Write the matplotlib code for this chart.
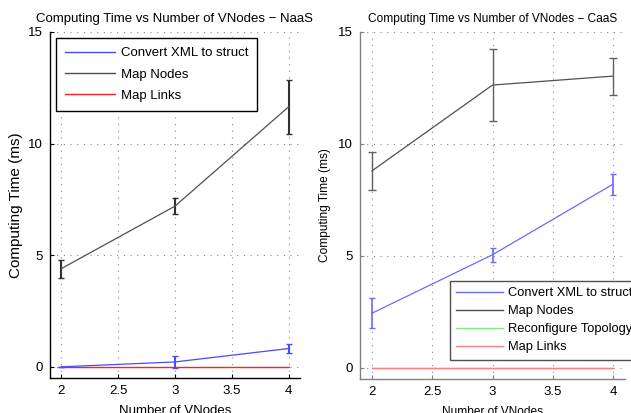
import matplotlib
matplotlib.use("Agg")
import matplotlib.pyplot as plt

plt.rcParams["font.family"] = ["Liberation Sans", "DejaVu Sans"]
plt.rcParams["font.size"] = 9

# ── data ──────────────────────────────────────────────────────────────────────
vnodes = [2, 3, 4]

# NaaS
naas_labels = ["Convert XML to struct", "Map Nodes", "Map Links"]
naas_xml = [0.0, 0.22, 0.82]
naas_xml_err = [0.0, 0.25, 0.2]
naas_nodes = [4.4, 7.2, 11.65]
naas_nodes_err = [0.4, 0.35, 1.2]
naas_links = [0.0, 0.0, 0.0]

# CaaS
caas_labels = ["Convert XML to struct", "Map Nodes", "Reconfigure Topology",
               "Map Links"]
caas_xml = [2.44, 5.05, 8.2]
caas_xml_err = [0.66, 0.32, 0.47]
caas_nodes = [8.8, 12.63, 13.03]
caas_nodes_err = [0.85, 1.6, 0.83]
caas_reconf = [0.0, 0.0, 0.0]
caas_links = [0.0, 0.0, 0.0]

W, H = 631, 413
fig = plt.figure(figsize=(W / 100, H / 100), dpi=100)


def px_axes(x0, y0, x1, y1):
    # pixel box (top-left origin) -> figure fraction
    return fig.add_axes([x0 / W, 1 - y1 / H, (x1 - x0) / W, (y1 - y0) / H])


def style(ax, title, spine_col, title_fs, xl_fs, yl_fs, ypad):
    ax.set_xlim(1.9, 4.1)
    ax.set_ylim(-0.5, 15)
    ax.set_xticks([2, 2.5, 3, 3.5, 4])
    ax.set_xticklabels(["2", "2.5", "3", "3.5", "4"])
    ax.set_yticks([0, 5, 10, 15])
    for s in ("top", "right"):
        ax.spines[s].set_visible(False)
    for s in ("left", "bottom"):
        ax.spines[s].set_color(spine_col)
        ax.spines[s].set_linewidth(1.0)
    ax.tick_params(direction="in", length=3, color=spine_col, labelsize=9.5,
                   pad=5)
    ax.grid(True, linestyle=(0, (1, 5)), color="#888888", linewidth=0.8)
    ax.set_axisbelow(True)
    ax.set_title(title, fontsize=title_fs, pad=7)
    ax.set_xlabel("Number of VNodes", fontsize=xl_fs, labelpad=6)
    ax.set_ylabel("Computing Time (ms)", fontsize=yl_fs, labelpad=ypad)


def make_legend(ax, handles, labels, x, y, fs, hlen, spacing, pad, edge):
    leg = ax.legend(handles, labels, loc="upper left",
                    bbox_to_anchor=(x / W, 1 - y / H),
                    bbox_transform=fig.transFigure, fontsize=fs,
                    handlelength=hlen, handletextpad=0.4, labelspacing=spacing,
                    borderpad=pad, borderaxespad=0, fancybox=False,
                    framealpha=1, edgecolor=edge)
    leg.get_frame().set_linewidth(1.0)
    for h in leg.legend_handles:
        h.set_linewidth(1.0)
    return leg


# ── NaaS ──────────────────────────────────────────────────────────────────────
ax1 = px_axes(50, 32, 300, 378)
e_xml = ax1.errorbar(vnodes, naas_xml, yerr=naas_xml_err, color="#4a4aff",
                     lw=0.9, elinewidth=1.5, capsize=2)
e_nodes = ax1.errorbar(vnodes, naas_nodes, yerr=naas_nodes_err,
                       color="#505050", lw=0.9, elinewidth=1.5, capsize=2.5,
                       ecolor="#303030")
l_links, = ax1.plot(vnodes, naas_links, color="#ff2020", lw=1.0)
style(ax1, "Computing Time vs Number of VNodes \u2212 NaaS", "black",
      9.5, 9.5, 11, 4)
make_legend(ax1, [e_xml[0], e_nodes[0], l_links], naas_labels, 56, 38,
            9.5, 3.8, 0.68, 0.7, "black")

# ── CaaS ──────────────────────────────────────────────────────────────────────
ax2 = px_axes(360, 32, 625, 379)
c_xml = ax2.errorbar(vnodes, caas_xml, yerr=caas_xml_err, color="#6a6aff",
                     lw=0.9, elinewidth=1.2, capsize=2)
c_nodes = ax2.errorbar(vnodes, caas_nodes, yerr=caas_nodes_err,
                       color="#505050", lw=0.9, elinewidth=1.0, capsize=3,
                       ecolor="#606060")
c_reconf, = ax2.plot(vnodes, caas_reconf, color="#80ee80", lw=1.0)
c_links, = ax2.plot(vnodes, caas_links, color="#ff8080", lw=1.0)
style(ax2, "Computing Time vs Number of VNodes \u2212 CaaS", "#808080",
      8.6, 8.6, 8.6, 5)
make_legend(ax2, [c_xml[0], c_nodes[0], c_reconf, c_links], caas_labels,
            450, 281, 9.3, 3.6, 0.45, 0.5, "#505050")

fig.savefig("out.png", dpi=100)
